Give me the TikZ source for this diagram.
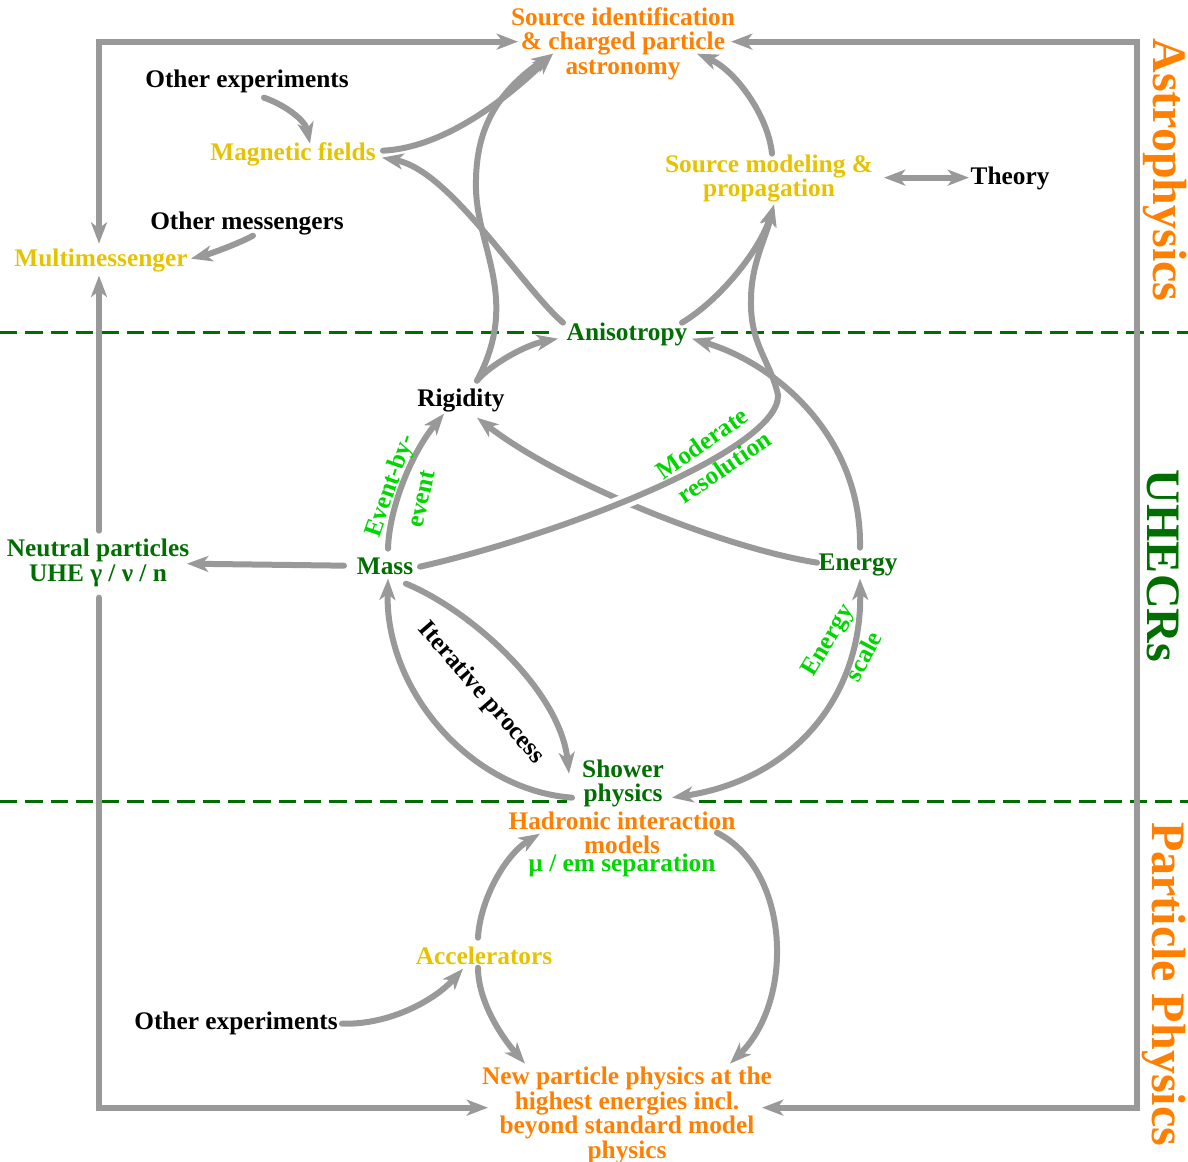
\documentclass[tikz,border=0pt]{standalone}
\usepackage{fontspec}
\setmainfont{Liberation Serif}
\usetikzlibrary{arrows.meta,calc}
\definecolor{cOrange}{RGB}{255,127,0}
\definecolor{cGold}{RGB}{230,195,0}
\definecolor{cDark}{RGB}{0,110,0}
\definecolor{cLight}{RGB}{0,215,0}
\definecolor{cGray}{RGB}{153,153,153}
\begin{document}
\begin{tikzpicture}[x=0.75pt,y=-0.75pt,
  >={Stealth[length=16pt,width=12pt,inset=4.5pt]},
  lbl/.style={font=\bfseries\fontsize{19}{18.4}\selectfont, align=center, inner sep=0pt},
  side/.style={font=\bfseries\fontsize{36}{40}\selectfont, inner sep=0pt, rotate=-90},
  conn/.style={draw=cGray, line width=4.5pt, line cap=round, ->},
  frame/.style={draw=cGray, line width=4.5pt, line cap=round, line join=miter},
  halo/.style={draw=white, line width=11pt},
  sep/.style={draw=cDark, line width=2.25pt, dash pattern=on 13pt off 6pt}]
\useasboundingbox (0,0) rectangle (1188,1162);

% main nodes
\begin{scope}[every node/.append style={yshift=-2pt}]
\node[lbl, text=cOrange] (src) at (623,41) {Source identification\\\& charged particle\\astronomy};
\node[lbl] (oexp1) at (247,79) {Other experiments};
\node[lbl, text=cGold] (magf) at (293,152) {Magnetic fields};
\node[lbl, text=cGold] (srcmod) at (769,176) {Source modeling \&\\propagation};
\node[lbl] (theory) at (1010,176) {Theory};
\node[lbl] (omess) at (247,221) {Other messengers};
\node[lbl, text=cGold] (multi) at (101,258) {Multimessenger};
\node[lbl, text=cDark] (aniso) at (627,332) {Anisotropy};
\node[lbl] (rig) at (461,398) {Rigidity};
\node[lbl, text=cDark] (neutral) at (98,560) {Neutral particles\\UHE γ / ν / n};
\node[lbl, text=cDark] (mass) at (385,564) {Mass};
\node[lbl, text=cDark] (energy) at (858,562) {Energy};
\node[lbl, text=cDark] (shower) at (623,781) {Shower\\physics};
\node[lbl, text=cOrange] (hadr) at (622,830) {Hadronic interaction\\models};
\node[lbl, text=cLight] (mu) at (622,863) {μ / em separation};
\node[lbl, text=cGold] (accel) at (484,953) {Accelerators};
\node[lbl] (oexp2) at (236,1021) {Other experiments};
\node[lbl, text=cOrange] (newp) at (627,1113) {New particle physics at the\\highest energies incl.\\beyond standard model\\physics};
\end{scope}

% side labels
\node[side, text=cOrange] (astro) at (1165,170) {Astrophysics};
\node[side, text=cDark] (uhecr) at (1163,566) {UHECRs};
\node[side, text=cOrange] (pp) at (1164,984) {Particle Physics};

% Energy -> Rigidity (under the Mass curve)
\draw[conn] ($(energy)+(-41,-2)$) .. controls (720,547) and (560,482) .. ($(rig)+(16,17)$);
% halo of the Mass curve where it crosses
\draw[halo] ($(mass)+(35,0)$) .. controls (560,535) and (780,450) .. (778,395);

% separators
\coordinate (yTop) at (0,333);
\coordinate (yBot) at (0,801);
\path (aniso.west) ++(-14,0) coordinate (dA1);
\path (aniso.east) ++(8,0) coordinate (dA2);
\path (shower.west) ++(-15,0) coordinate (dB1);
\path (shower.east) ++(35,0) coordinate (dB2);
\draw[sep] (yTop) -- (dA1 |- yTop);
\draw[sep] (dA2 |- yTop) -- (1188,333);
\draw[sep] (yBot) -- (dB1 |- yBot);
\draw[sep] (dB2 |- yBot) -- (1188,801);

% frame
\draw[frame, <->] ($(multi)+(-2,-17)$) |- ($(src)+(-105,-2)$);
\draw[frame, <->] ($(src)+(108,-2)$) -| ($(newp)+(510,-8)$) -- ($(newp)+(135,-8)$);
\draw[frame, ->] ($(neutral)+(1,-32)$) -- ($(multi)+(-2,15)$);
\draw[frame, ->] ($(neutral)+(1,35)$) |- ($(newp)+(-139,-8)$);

% astrophysics connectors
\draw[conn] ($(oexp1)+(17,16)$) .. controls (285,105) and (305,120) .. ($(magf)+(17,-11)$);
\draw[conn] ($(omess)+(6,12)$) .. controls (240,243) and (210,254) .. ($(multi)+(90,-2)$);
\draw[conn, <->] ($(srcmod)+(115,-1)$) -- ($(theory)+(-41,-1)$);
\draw[conn] ($(magf)+(90,-4)$) .. controls (440,148) and (500,105) .. ($(src)+(-70,10)$);
\draw[conn] ($(rig)+(16,-20)$) .. controls (520,300) and (478,250) .. (476,190)
            .. controls (475,145) and (485,100) .. ($(src)+(-70,10)$);
\draw[conn] ($(aniso)+(-64,-12)$) .. controls (520,285) and (450,170) .. ($(magf)+(89,3)$);
\draw[conn] ($(aniso)+(55,-12)$) .. controls (720,300) and (760,250) .. ($(srcmod)+(5,26)$);
\draw[conn] ($(srcmod)+(3,-25)$) .. controls (768,115) and (735,70) .. ($(src)+(74,10)$);

% UHECR connectors
\draw[conn] ($(rig)+(16,-20)$) .. controls (490,365) and (525,345) .. ($(aniso)+(-69,4)$);
\draw[conn] ($(mass)+(3,-18)$) .. controls (389,510) and (410,455) .. ($(rig)+(-17,13)$);
\draw[conn] ($(mass)+(35,0)$) .. controls (560,535) and (780,450) .. (778,395)
            .. controls (770,360) and (750,345) .. (751,300)
            .. controls (751,265) and (765,240) .. ($(srcmod)+(5,26)$);
\draw[conn] ($(energy)+(2,-17)$) .. controls (862,440) and (780,365) .. ($(aniso)+(65,4)$);
\draw[conn] ($(mass)+(-41,-1)$) -- ($(neutral)+(89,1)$);
\draw[conn] ($(mass)+(21,17)$) .. controls (470,610) and (560,690) .. ($(shower)+(-54,-10)$);
\draw[conn] ($(shower)+(-51,14)$) .. controls (470,790) and (385,690) .. ($(mass)+(3,12)$);
\draw[conn, <->] ($(energy)+(2,14)$) .. controls (862,700) and (790,780) .. ($(shower)+(49,14)$);

% particle physics connectors
\draw[conn] ($(accel)+(-6,-18)$) .. controls (480,900) and (505,855) .. ($(hadr)+(-82,1)$);
\draw[conn] ($(accel)+(-6,12)$) .. controls (478,1000) and (500,1035) .. ($(newp)+(-102,-52)$);
\draw[conn] ($(hadr)+(95,0)$) .. controls (790,870) and (795,1000) .. ($(newp)+(103,-52)$);
\draw[conn] ($(oexp2)+(106,0)$) .. controls (390,1025) and (435,1000) .. ($(accel)+(-21,13)$);

% edge labels
\node[lbl, text=cLight, rotate=71] (lev1) at (391,486) {Event-by-};
\node[lbl, text=cLight, rotate=78] (lev2) at (422,499) {event};
\node[lbl, text=cLight, rotate=35] (lmo1) at (702,443) {Moderate};
\node[lbl, text=cLight, rotate=34] (lmo2) at (724,467) {resolution};
\node[lbl, rotate=-49] (liter) at (481,693) {Iterative process};
\node[lbl, text=cLight, rotate=59] (les1) at (829,641) {Energy};
\node[lbl, text=cLight, rotate=62] (les2) at (863,656) {scale};
\end{tikzpicture}
\end{document}
